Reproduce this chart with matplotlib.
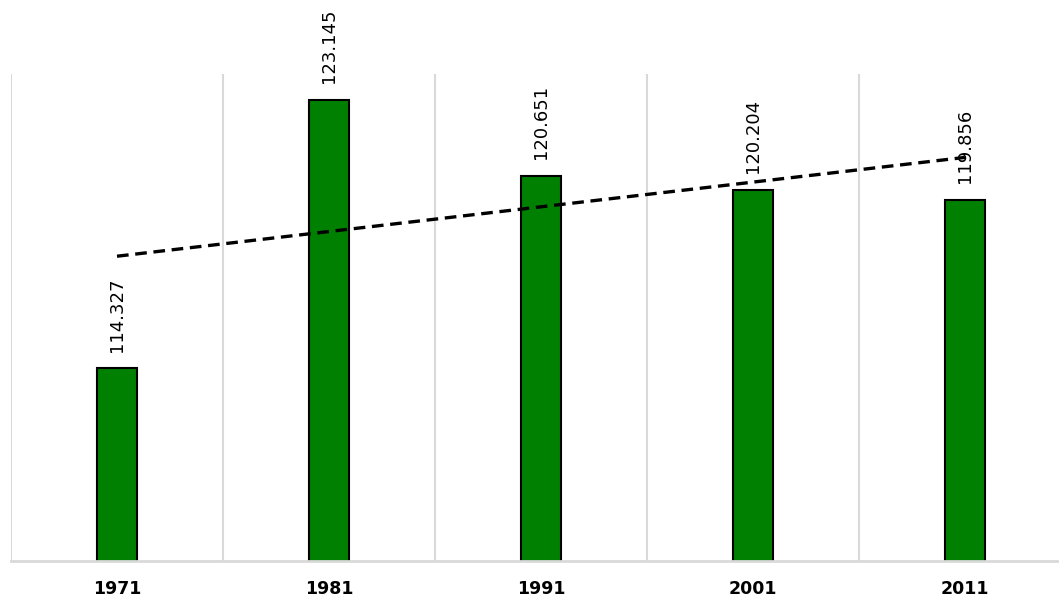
import numpy as np
import matplotlib.pyplot as plt

# Data
years = ['1971', '1981', '1991', '2001', '2011']
values = [114.327, 123.145, 120.651, 120.204, 119.856]

GREEN = '#008000'
GRID = '#d9d9d9'

fig = plt.figure(figsize=(10.59, 6.0), dpi=100)
# axes run a bit past the right edge, like the original
ax = fig.add_axes([11 / 1059, 39 / 600, 1060 / 1059, 487 / 600])

x = np.arange(len(years))
ax.bar(x, values, width=0.185, color=GREEN, edgecolor='black', linewidth=1.5, zorder=2)

# value labels
for xi, v in zip(x, values):
    ax.annotate('%.3f' % v, (xi, v), xytext=(0, 12), textcoords='offset points',
                rotation=90, ha='center', va='bottom', fontsize=13, color='black', zorder=3)

# linear trend line
k, b = np.polyfit(x + 1, values, 1)
ax.plot(x, k * (x + 1) + b, color='black', linewidth=2.4, linestyle=(0, (3.5, 2)),
        zorder=4, solid_capstyle='butt')

ax.set_xlim(-0.5, len(years) - 0.5)
ax.set_ylim(108, 124)

# gridlines at category boundaries
ax.set_xticks(x)
ax.set_xticklabels(years, fontsize=12.5, fontweight='bold')
ax.set_xticks(np.arange(-0.5, len(years), 1), minor=True)
ax.grid(which='minor', axis='x', color=GRID, linewidth=1.5, zorder=0)
ax.tick_params(axis='x', which='both', length=0, pad=14)
ax.set_yticks([])

for s in ['top', 'right', 'left']:
    ax.spines[s].set_visible(False)
ax.spines['bottom'].set_color(GRID)
ax.spines['bottom'].set_linewidth(2)
ax.spines['bottom'].set_zorder(3)

plt.savefig('out.png', dpi=100)
